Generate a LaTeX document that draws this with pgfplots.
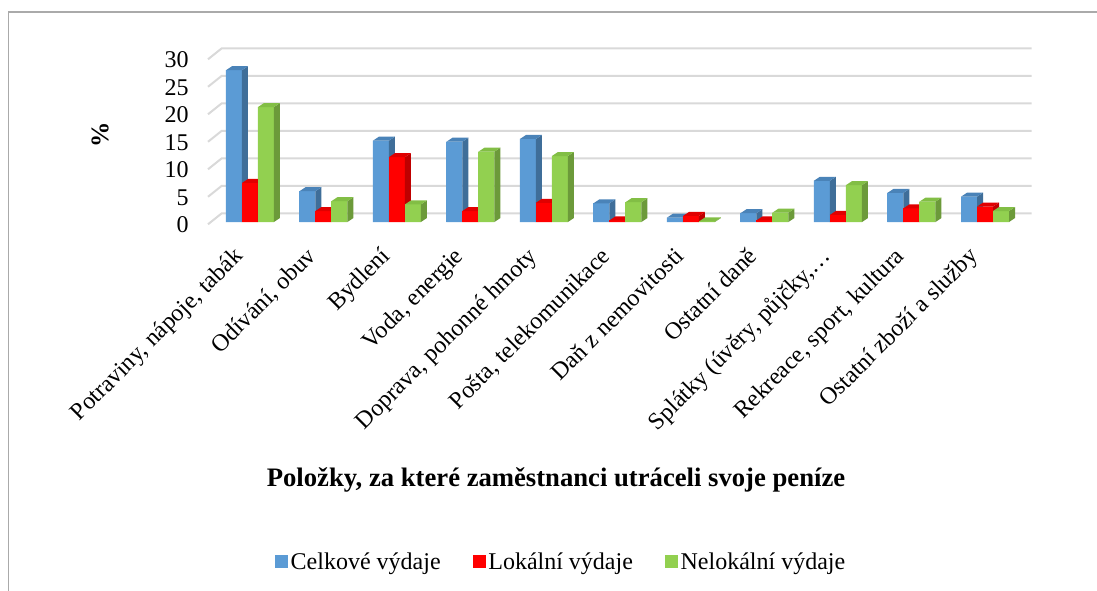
\documentclass[border=0pt]{standalone}
\usepackage{fontspec}
\setmainfont{Liberation Serif}
\usepackage{pgfplots}
\pgfplotsset{compat=1.18}
\definecolor{cB}{HTML}{5B9BD5}
\definecolor{cBs}{HTML}{3F6E99}
\definecolor{cBt}{HTML}{4A83B8}
\definecolor{cR}{HTML}{FF0000}
\definecolor{cRs}{HTML}{BF0000}
\definecolor{cRt}{HTML}{E00000}
\definecolor{cG}{HTML}{92D050}
\definecolor{cGs}{HTML}{6C9A3A}
\definecolor{cGt}{HTML}{82BE45}
\definecolor{gridc}{RGB}{217,217,217}
\definecolor{framec}{RGB}{170,170,170}
\newcommand{\barbox}[3]{\tikz[overlay]{%
  \fill[#1] (-6pt,0pt) rectangle (6pt,{-\rawy*4.125pt});
  \fill[#2] (6pt,0pt) -- (10.5pt,3pt) -- (10.5pt,{3pt-\rawy*4.125pt}) -- (6pt,{-\rawy*4.125pt}) -- cycle;
  \fill[#3] (-6pt,0pt) -- (6pt,0pt) -- (10.5pt,3pt) -- (-1.5pt,3pt) -- cycle;}}
\begin{document}
\begin{tikzpicture}[font=\fontsize{18}{20}\selectfont]
\useasboundingbox (0,0) rectangle (822.75pt,442.5pt);
\draw[framec, line width=1.2pt] (6.4pt,-2pt) -- (6.4pt,433.3pt) -- (830pt,433.3pt);
\begin{axis}[
  at={(156pt,276pt)}, anchor=south west,
  scale only axis, width=607.5pt, height=123.75pt,
  xmin=-0.571, xmax=10.449, ymin=0, ymax=30,
  clip=false,
  axis line style={draw=none},
  major tick length=0pt,
  ytick={0,5,...,30},
  xtick={0,...,10},
  xticklabels={{Potraviny, nápoje, tabák},{Odívání, obuv},{Bydlení},{Voda, energie},{Doprava, pohonné hmoty},{Pošta, telekomunikace},{Daň z nemovitosti},{Ostatní daně},{Splátky (úvěry, půjčky,…},{Rekreace, sport, kultura},{Ostatní zboží a služby}},
  /pgf/number format/assume math mode=true,
  tick label style={font=\fontsize{18}{20}\selectfont},
  yticklabel style={anchor=east, inner sep=0pt, xshift=-14.25pt, yshift=-2.25pt},
  xticklabel style={inner sep=0pt, xshift=-4.5pt, yshift=-26.5pt, rotate=45, anchor=base east},
  xlabel={Položky, za které zaměstnanci utráceli svoje peníze},
  ylabel={\%},
  every axis x label/.style={at={(rel axis cs:0.5,0)}, anchor=center, xshift=-42.75pt, yshift=-193.5pt, font=\bfseries\fontsize{20}{22}\selectfont},
  every axis y label/.style={at={(rel axis cs:0,0.5)}, xshift=-81pt, yshift=3.4pt, anchor=center, rotate=90, font=\bfseries\fontsize{19}{21}\selectfont},
  ybar=0pt, bar width=12pt,
  visualization depends on={rawy \as \rawy},
  nodes near coords style={anchor=center, inner sep=0pt, outer sep=0pt},
  legend columns=3,
  legend style={draw=none, at={(0.4364,-2.0606)}, anchor=center, font=\fontsize{18}{20}\selectfont,
    /tikz/every even column/.append style={column sep=22pt}, nodes={inner xsep=2pt}},
  legend cell align=left,
]
\pgfplotsinvokeforeach{0,5,10,15,20,25,30}{
  \draw[gridc, line width=1.5pt] ([shift={(0pt,-1.7pt)}]axis cs:-0.571,#1) -- ([shift={(10.3pt,6.5pt)}]axis cs:-0.571,#1) -- ([shift={(10.3pt,6.5pt)}]axis cs:10.449,#1);
}
\addplot[fill=cB, draw=none, nodes near coords={\barbox{cB}{cBs}{cBt}},
  legend image code/.code={\fill[cB] (0pt,-4.5pt) rectangle (9.75pt,5.25pt);}]
  coordinates {(0,27.6) (1,5.6) (2,14.8) (3,14.6) (4,15.1) (5,3.4) (6,0.8) (7,1.6) (8,7.5) (9,5.3) (10,4.6)};
\addlegendentry{Celkové výdaje}
\addplot[fill=cR, draw=none, nodes near coords={\barbox{cR}{cRs}{cRt}},
  legend image code/.code={\fill[cR] (0pt,-4.5pt) rectangle (9.75pt,5.25pt);}]
  coordinates {(0,7.1) (1,2.0) (2,11.8) (3,2.0) (4,3.5) (5,0.3) (6,1.1) (7,0.3) (8,1.3) (9,2.5) (10,2.8)};
\addlegendentry{Lokální výdaje}
\addplot[fill=cG, draw=none, nodes near coords={\barbox{cG}{cGs}{cGt}},
  legend image code/.code={\fill[cG] (0pt,-4.5pt) rectangle (9.75pt,5.25pt);}]
  coordinates {(0,20.9) (1,3.8) (2,3.2) (3,12.8) (4,12.0) (5,3.6) (6,0.1) (7,1.7) (8,6.7) (9,3.7) (10,2.0)};
\addlegendentry{Nelokální výdaje}
\end{axis}
\end{tikzpicture}
\end{document}
